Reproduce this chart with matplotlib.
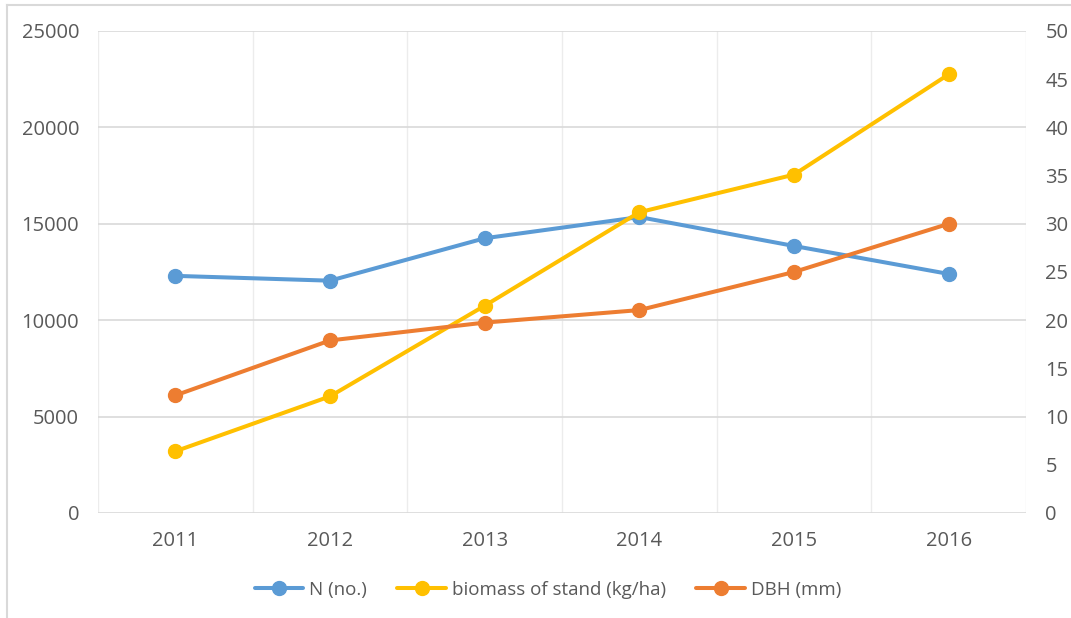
import matplotlib
matplotlib.use("Agg")
import matplotlib.pyplot as plt
from matplotlib.lines import Line2D

years = ["2011", "2012", "2013", "2014", "2015", "2016"]
n_no = [12300, 12050, 14250, 15350, 13850, 12400]
biomass = [3200, 6050, 10750, 15600, 17550, 22750]
dbh = [12.2, 17.9, 19.75, 21.05, 25.0, 30.0]

left_ticks = [0, 5000, 10000, 15000, 20000, 25000]
right_ticks = [0, 5, 10, 15, 20, 25, 30, 35, 40, 45, 50]

BLUE = "#5B9BD5"
YELLOW = "#FFC000"
ORANGE = "#ED7D31"
GRID = "#D9D9D9"
VGRID = "#ECECEC"
TXT = "#595959"

plt.rcParams["font.family"] = ["Open Sans", "DejaVu Sans"]

W, H = 1071, 618
fig = plt.figure(figsize=(W / 100, H / 100), dpi=100)
ax = fig.add_axes([98 / W, 1 - 513 / H, (1026 - 98) / W, (513 - 31) / H])
ax2 = ax.twinx()

x = list(range(len(years)))
lw = 2.9
ms = 10
l1, = ax.plot(x, n_no, color=BLUE, lw=lw, marker="o", ms=ms, label="N (no.)", solid_capstyle="round")
l2, = ax.plot(x, biomass, color=YELLOW, lw=lw, marker="o", ms=ms, label="biomass of stand (kg/ha)", solid_capstyle="round")
l3, = ax2.plot(x, dbh, color=ORANGE, lw=lw, marker="o", ms=ms, label="DBH (mm)", solid_capstyle="round")

ax.set_xlim(-0.5, len(years) - 0.5)
ax.set_ylim(0, 25000)
ax2.set_ylim(0, 50)
ax.set_yticks(left_ticks)
ax.set_yticklabels([str(v) for v in left_ticks])
ax2.set_yticks(right_ticks)
ax2.set_yticklabels([str(v) for v in right_ticks])
ax.set_xticks(x)
ax.set_xticklabels(years)

# grid: horizontal at ticks, vertical at category boundaries
for b in [i - 0.5 for i in range(len(years) + 1)]:
    ax.axvline(b, color=VGRID, lw=1.0, zorder=0)
for v in left_ticks:
    ax.axhline(v, color=GRID, lw=1.2, zorder=0.5)

for a in (ax, ax2):
    for s in a.spines.values():
        s.set_visible(False)
    a.tick_params(length=0, colors=TXT, labelsize=14.5)
ax.tick_params(axis="y", pad=13.5)
ax2.tick_params(axis="y", pad=14)
ax.tick_params(axis="x", pad=13)

fig.legend(handles=[l1, l2, l3], loc="center", bbox_to_anchor=(548 / W, 1 - 590 / H),
           ncol=3, frameon=False, fontsize=13.5, labelcolor=TXT,
           handlelength=2.6, handletextpad=0.32, columnspacing=1.6)

# outer chart border (top and left visible)
fig.add_artist(Line2D([7 / W, 7 / W], [0, 1 - 5 / H], color=GRID, lw=1.5, transform=fig.transFigure))
fig.add_artist(Line2D([7 / W, 1], [1 - 5 / H, 1 - 5 / H], color=GRID, lw=1.5, transform=fig.transFigure))

fig.savefig("out.png", dpi=100)
